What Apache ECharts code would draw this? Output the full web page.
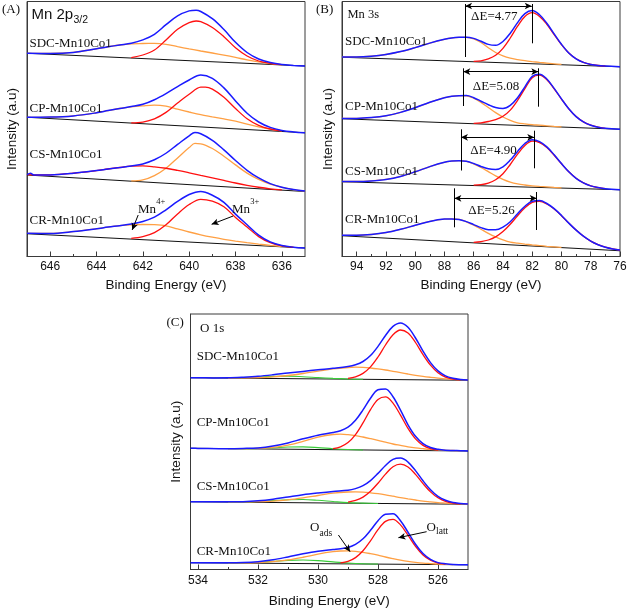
<!DOCTYPE html>
<html><head><meta charset="utf-8">
<script src="https://cdn.jsdelivr.net/npm/echarts@6/dist/echarts.min.js"></script>
<style>html,body{margin:0;padding:0;background:#fff}#c{width:628px;height:609px}</style>
</head><body><div id="c"></div>
<script>
// ---------------- DATA (binding energy eV, intensity a.u.) ----------------
const SAMPLES = ['SDC-Mn10Co1','CP-Mn10Co1','CS-Mn10Co1','CR-Mn10Co1'];

const A_TICKS = [636,638,640,642,644,646];
const A_MINOR = [637,639,641,643,645];
const B_TICKS = [76,78,80,82,84,86,88,90,92,94];
const B_MINOR = [77,79,81,83,85,87,89,91,93];
const C_TICKS = [526,528,530,532,534];
const C_MINOR = [527,529,531,533];

// Panel A : Mn 2p3/2
const A_SDC_base = [[647,203.2],[635,190.5]];
const A_SDC_env = [[647,203.2],[646,203.1],[645,204.1],[644,207.7],[643.5,209.7],[643,211.5],[642.5,213.2],[642,216.6],[641.5,222.2],[641,231.8],[640.5,240.7],[640,245.6],[639.7,246.3],[639.5,245.0],[639,237.8],[638.5,227.0],[638,214.2],[637.5,204.0],[637,197.5],[636.5,193.9],[636,191.9],[635.5,191.1],[635,190.5]];
const A_SDC_red = [[642.5,198.9],[642,201.5],[641.5,206.5],[641,216.5],[640.5,227.2],[640,233.8],[639.7,235.5],[639.5,234.8],[639,229.0],[638.5,219.8],[638,208.8],[637.5,200.5],[637,195.5],[636.5,193.1],[636,191.8]];
const A_SDC_orange = [[647,203.2],[646,203.1],[645,204.1],[644,207.7],[643.5,209.7],[643,211.5],[642.5,212.7],[642,213.0],[641.5,213.1],[641,212.2],[640.5,209.8],[640,207.6],[639.5,205.5],[639,203.5],[638.5,201.4],[638,199.1],[637.5,196.6],[637,194.6],[636.5,193.0],[636,191.7]];

const A_CP_base = [[647,139.2],[635,123.8]];
const A_CP_env = [[647,139.2],[646,139.4],[645,140.6],[644,143.7],[643.5,145.9],[643,148.0],[642.5,149.9],[642,152.2],[641.5,156.8],[641,162.9],[640.5,169.9],[640,176.5],[639.5,181.5],[639,178.2],[638.5,168.6],[638,155.6],[637.5,143.2],[637,134.5],[636.5,129.1],[636,126.1],[635.5,124.6],[635,123.8]];
const A_CP_red = [[642.5,133.7],[642,134.4],[641.5,137.6],[641,144.1],[640.5,153.4],[640,162.2],[639.5,169.3],[639.3,169.4],[639,167.4],[638.5,159.3],[638,148.0],[637.5,137.8],[637,131.2],[636.5,127.5],[636,125.6]];
const A_CP_orange = [[647,139.2],[646,139.4],[645,140.6],[644,143.7],[643.5,145.9],[643,148.0],[642.5,149.6],[642,150.6],[641.5,151.3],[641,150.3],[640.5,147.4],[640,144.5],[639.5,141.8],[639,139.7],[638.5,137.6],[638,135.3],[637.5,132.4],[637,129.7],[636.5,127.3],[636,125.6]];

const A_CS_base = [[647,81.5],[635,65.0]];
const A_CS_env = [[647,81.8],[646.85,83.2],[646.7,81.5],[646,81.6],[645,83.25],[644,85.9],[643.5,87.5],[643,89.0],[642.5,90.6],[642,92.6],[641.5,96.7],[641,103.25],[640.5,112.1],[640,120.7],[639.75,123.95],[639.5,122.7],[639,116.2],[638.5,106.6],[638,96.0],[637.5,86.2],[637,78.55],[636.5,72.9],[636,69.3],[635.5,66.9],[635,65.4]];
const A_CS_red = [[647,81.8],[646.5,81.5],[646,81.6],[645,83.25],[644,85.9],[643.5,87.5],[643,89.0],[642.5,90.3],[642,90.6],[641.5,89.7],[641,88.25],[640.5,86.1],[640,83.7],[639.5,81.2],[639,78.7],[638.5,76.1],[638,73.5],[637.5,71.2],[637,69.25],[636.5,67.7],[636,66.6]];
const A_CS_orange = [[642.5,75.6],[642,76.6],[641.5,80.9],[641,88.25],[640.5,98.6],[640,108.9],[639.75,113.05],[639.5,112.7],[639,108.0],[638.5,100.3],[638,91.6],[637.5,83.4],[637,77.05],[636.5,72.3],[636,69.1],[635.5,66.9],[635,65.4]];

const A_CR_base = [[647,22.8],[635,8.5]];
const A_CR_env = [[647,23.2],[646,23.1],[645,24.9],[644,27.7],[643.5,29.4],[643,30.8],[642.5,32.4],[642,35.0],[641.5,39.3],[641,46.7],[640.5,55.1],[640,62.0],[639.5,65.0],[639,61.3],[638.5,54.2],[638,42.4],[637.5,31.8],[637,21.4],[636.5,14.6],[636,11.0],[635.5,9.3],[635,8.5]];
const A_CR_red = [[642.5,18.1],[642,19.8],[641.5,23.8],[641,31.7],[640.5,42.6],[640,52.0],[639.5,57.2],[639,55.3],[638.5,49.7],[638,39.1],[637.5,29.5],[637,19.9],[636.5,13.8],[636,10.7],[635.5,9.3]];
const A_CR_orange = [[647,23.2],[646,23.1],[645,24.9],[644,27.7],[643.5,29.4],[643,30.8],[642.5,31.7],[642,32.0],[641.5,31.8],[641,30.7],[640.5,27.6],[640,24.5],[639.5,21.7],[639,19.3],[638.5,17.2],[638,15.4],[637.5,13.8],[637,12.4],[636.5,11.1],[636,10.0]];

// Panel B : Mn 3s
const B_SDC_base = [[95,199.2],[76,189.8]];
const B_SDC_env = [[95,199.6],[94,199.6],[93,200.3],[92,202.0],[91,204.9],[90,208.9],[89,213.4],[88,217.2],[87.5,218.6],[87,219.2],[86.5,219.3],[86,218.1],[85.5,215.2],[85,212.1],[84.5,211.2],[84,215.0],[83.5,223.3],[83,233.9],[82.5,242.9],[82,245.9],[81.5,241.7],[81,233.3],[80.5,222.6],[80,212.2],[79.5,203.5],[79,197.7],[78.5,194.1],[78,192.1],[77.5,191.0],[77,190.5],[76,189.8]];
const B_SDC_red = [[86,195.2],[85.5,195.7],[85,197.6],[84.5,201.2],[84,208.2],[83.5,218.5],[83,230.3],[82.5,240.1],[82,243.8],[81.5,240.1],[81,232.2],[80.5,221.9],[80,211.8],[79.5,203.5],[79,197.7],[78.5,194.1],[78,192.1],[77.5,191.0],[77,190.5]];
const B_SDC_orange = [[95,199.6],[94,199.6],[93,200.3],[92,202.0],[91,204.9],[90,208.9],[89,213.4],[88,217.2],[87.5,218.6],[87,219.2],[86.5,219.1],[86,217.6],[85.5,214.0],[85,208.7],[84.5,204.0],[84,200.6],[83.5,198.3],[83,196.9],[82.5,195.8],[82,194.9],[81.5,194.1],[81,193.4],[80.5,192.7],[80,192.2]];

const B_CP_base = [[95,137.8],[76,127.2]];
const B_CP_env = [[95,138.1],[94,138.1],[93,138.9],[92,140.7],[91,144.1],[90,148.8],[89,154.2],[88,158.8],[87.5,160.2],[87,160.8],[86.5,160.9],[86,158.8],[85.5,155.3],[85,151.8],[84.5,148.9],[84,148.0],[83.5,151.1],[83,158.7],[82.5,169.6],[82,180.1],[81.5,182.3],[81,177.5],[80.5,168.1],[80,157.6],[79.5,147.7],[79,139.9],[78.5,134.6],[78,131.3],[77.5,129.3],[77,128.2],[76,127.2]];
const B_CP_red = [[86,133.2],[85.5,133.7],[85,135.0],[84.5,136.9],[84,140.2],[83.5,146.4],[83,156.1],[82.5,167.8],[82,178.8],[81.5,181.3],[81,176.8],[80.5,167.7],[80,157.4],[79.5,147.7],[79,139.9],[78.5,134.6],[78,131.3],[77.5,129.3],[77,128.2]];
const B_CP_orange = [[95,138.1],[94,138.1],[93,138.9],[92,140.7],[91,144.1],[90,148.8],[89,154.2],[88,158.8],[87.5,160.2],[87,160.8],[86.5,160.6],[86,158.3],[85.5,154.1],[85,149.0],[84.5,143.9],[84,139.5],[83.5,136.1],[83,133.7],[82.5,132.6],[82,131.8],[81.5,131.3],[81,130.7],[80.5,130.1],[80,129.6]];

const B_CS_base = [[95,74.8],[76,66.8]];
const B_CS_env = [[95,75.0],[94,75.0],[93,75.6],[92,77.1],[91,80.1],[90,84.7],[89,89.9],[88,94.2],[87.5,95.4],[87,95.8],[86.5,95.2],[86,93.0],[85.5,90.0],[85,87.7],[84.5,87.0],[84,89.7],[83.5,96.4],[83,105.1],[82.5,113.0],[82,116.7],[81.5,114.9],[81,109.6],[80.5,101.7],[80,92.9],[79.5,84.7],[79,78.2],[78.5,73.6],[78,70.6],[77.5,68.9],[77,67.8],[76,66.8]];
const B_CS_red = [[86,71.3],[85.5,71.8],[85,73.4],[84.5,76.7],[84,82.7],[83.5,92.0],[83,102.3],[82.5,111.0],[82,115.3],[81.5,113.9],[81,108.9],[80.5,101.3],[80,92.7],[79.5,84.7],[79,78.2],[78.5,73.6],[78,70.6],[77.5,68.9],[77,67.8]];
const B_CS_orange = [[95,75.0],[94,75.0],[93,75.6],[92,77.1],[91,80.1],[90,84.7],[89,89.9],[88,94.2],[87.5,95.4],[87,95.8],[86.5,95.1],[86,92.7],[85.5,89.0],[85,84.9],[84.5,80.7],[84,77.2],[83.5,74.4],[83,72.6],[82.5,71.5],[82,70.7],[81.5,70.1],[81,69.6],[80.5,69.1],[80,68.7]];

const B_CR_base = [[95,20.7],[76,5.8]];
const B_CR_env = [[95,21.2],[94,21.2],[93,22.0],[92,23.9],[91,27.2],[90,31.2],[89,35.1],[88,37.4],[87.5,37.6],[87,37.1],[86.5,34.9],[86,31.9],[85.5,28.9],[85,26.8],[84.5,26.7],[84,29.4],[83.5,34.8],[83,42.8],[82.5,50.3],[82,55.2],[81.5,55.9],[81,53.0],[80.5,47.8],[80,41.0],[79.5,33.4],[79,26.4],[78.5,20.3],[78,15.4],[77.5,11.8],[77,9.3],[76.5,7.6],[76,6.5]];
const B_CR_red = [[86,14.2],[85.5,14.9],[85,16.5],[84.5,19.6],[84,24.9],[83.5,32.2],[83,40.8],[82.5,48.8],[82,54.1],[81.5,55.1],[81,52.5],[80.5,47.5],[80,40.8],[79.5,33.4],[79,26.4],[78.5,20.3],[78,15.4],[77.5,11.8],[77,9.3],[76.5,7.6],[76,6.5]];
const B_CR_orange = [[95,21.2],[94,21.2],[93,22.0],[92,23.9],[91,27.2],[90,31.2],[89,35.1],[88,37.4],[87.5,37.6],[87,37.1],[86.5,34.7],[86,31.3],[85.5,27.3],[85,23.2],[84.5,19.6],[84,16.6],[83.5,14.3],[83,13.3],[82.5,12.4],[82,11.6],[81.5,10.9],[81,10.2],[80.5,9.6],[80,9.05]];

// Mn 3s splitting: peak positions
const B_DE_TEXT = ['ΔE=4.77','ΔE=5.08','ΔE=4.90','ΔE=5.26'];
const B_DE_LEFT = [86.59,86.71,86.87,87.32];
const B_DE_RIGHT = [82.03,81.58,81.86,81.69];

// Panel C : O 1s
const C_SDC_base = [[534.25,191.8],[525,189.2]];
const C_SDC_env = [[534.25,191.8],[534,191.7],[533.5,191.6],[533,191.7],[532.5,192.3],[532,193.2],[531.5,194.7],[531,196.5],[530.5,198.1],[530,199.7],[529.5,201.2],[529,203.0],[528.75,204.7],[528.5,208.0],[528.25,214.0],[528,223.1],[527.75,234.0],[527.5,243.1],[527.25,246.6],[527,242.2],[526.75,231.5],[526.5,218.4],[526.25,206.9],[526,198.6],[525.75,193.7],[525.5,191.3],[525.25,190.1],[525,189.6]];
const C_SDC_red = [[529,191.1],[528.75,192.7],[528.5,196.1],[528.25,202.6],[528,212.5],[527.75,224.5],[527.5,234.8],[527.25,239.5],[527,236.5],[526.75,227.0],[526.5,214.9],[526.25,204.3],[526,196.7],[525.75,192.4],[525.5,190.4],[525.25,189.6]];
const C_SDC_orange = [[533,191.5],[532.5,191.7],[532,191.9],[531.5,192.6],[531,194.0],[530.5,196.0],[530,198.4],[529.5,200.6],[529,202.0],[528.75,202.3],[528.5,202.1],[528.25,201.5],[528,200.6],[527.75,199.5],[527.5,198.2],[527.25,196.9],[527,195.5],[526.75,194.2],[526.5,193.1],[526.25,192.2],[526,191.4],[525.75,190.7],[525.5,190.2],[525.25,189.8],[525,189.6]];
const C_SDC_green = [[533,191.7],[532.5,192.0],[532,192.5],[531.5,193.1],[531,193.4],[530.5,192.8],[530,191.9],[529.5,191.1],[529,190.5],[528.5,190.2]];

const C_CP_base = [[534.25,121.2],[525,118.5]];
const C_CP_env = [[534.25,121.2],[534,121.1],[533,120.8],[532.5,121.05],[532,121.6],[531.5,123.5],[531,126.6],[530.5,130.7],[530,134.3],[529.5,136.95],[529.25,138.75],[529,142.3],[528.75,149.2],[528.5,159.6],[528.25,171.3],[528,179.8],[527.75,180.6],[527.5,172.7],[527.25,159.3],[527,144.7],[526.75,133.2],[526.5,125.9],[526.25,122.0],[526,120.2],[525.75,119.3],[525.5,119.05],[525.25,118.8],[525,118.5]];
const C_CP_red = [[529.5,120.8],[529.25,122.65],[529,126.9],[528.75,134.9],[528.5,146.6],[528.25,159.9],[528,170.0],[527.75,172.6],[527.5,166.4],[527.25,154.4],[527,141.1],[526.75,130.6],[526.5,124.1],[526.25,120.8],[526,119.4]];
const C_CP_orange = [[533,120.8],[532.5,120.9],[532,121.1],[531.5,122.2],[531,124.4],[530.5,128.2],[530,132.4],[529.5,135.0],[529.25,135.3],[529,134.8],[528.75,133.9],[528.5,132.5],[528.25,130.9],[528,129.2],[527.75,127.3],[527.5,125.5],[527.25,124.1],[527,122.7],[526.75,121.6],[526.5,120.8],[526.25,120.1],[526,119.6],[525.75,119.3],[525.5,119.05],[525.25,118.8]];
const C_CP_green = [[533,120.8],[532.5,120.85],[532,121.1],[531.5,121.7],[531,122.5],[530.5,122.6],[530,121.9],[529.5,120.8],[529,120.0],[528.5,119.5]];

const C_CS_base = [[534.25,67.8],[525,65.2]];
const C_CS_env = [[534.25,67.8],[534,67.7],[533,67.65],[532.5,67.84],[532,68.7],[531.5,70.3],[531,72.6],[530.5,74.85],[530,76.6],[529.5,78.1],[529,79.2],[528.75,80.85],[528.5,83.8],[528.25,88.9],[528,96.1],[527.75,104.05],[527.5,110.1],[527.25,111.4],[527,107.45],[526.75,98.9],[526.5,88.7],[526.25,79.75],[526,73.1],[525.75,69.2],[525.5,67.0],[525.25,66.1],[525,65.4]];
const C_CS_red = [[529,67.4],[528.75,69.05],[528.5,72.4],[528.25,78.2],[528,86.3],[527.75,95.35],[527.5,102.7],[527.25,105.3],[527,102.55],[526.75,95.1],[526.5,85.9],[526.25,77.65],[526,71.7],[525.75,68.2],[525.5,66.4],[525.25,65.7]];
const C_CS_orange = [[533,67.55],[532.5,67.54],[532,67.8],[531.5,68.4],[531,69.7],[530.5,71.65],[530,74.0],[529.5,76.3],[529,77.5],[528.75,77.65],[528.5,77.4],[528.25,76.7],[528,75.8],[527.75,74.65],[527.5,73.3],[527.25,71.9],[527,70.65],[526.75,69.5],[526.5,68.4],[526.25,67.65],[526,66.9],[525.75,66.4],[525.5,65.9],[525.25,65.7],[525,65.4]];
const C_CS_green = [[533,67.55],[532.5,67.6],[532,68.1],[531.5,68.9],[531,69.8],[530.5,69.95],[530,69.2],[529.5,68.0],[529,66.9],[528.5,66.4],[528,66.05]];

const C_CR_base = [[534.25,6.8],[525,4.7]];
const C_CR_env = [[534.25,6.8],[534,6.74],[533,6.65],[532.5,6.9],[532,7.8],[531.5,9.7],[531,12.6],[530.5,15.75],[530,18.35],[529.5,20.0],[529.25,20.75],[529,22.0],[528.75,25.05],[528.5,30.7],[528.25,39.2],[528,48.8],[527.75,55.3],[527.5,55.7],[527.25,48.8],[527,37.25],[526.75,25.3],[526.5,15.94],[526.25,10.1],[526,6.9],[525.75,5.7],[525.5,4.95],[525.25,4.75],[525,4.7]];
const C_CR_red = [[529.25,6.55],[529,8.1],[528.75,11.85],[528.5,18.7],[528.25,28.64],[528,39.8],[527.75,48.1],[527.5,50.1],[527.25,44.6],[527,34.25],[526.75,23.2],[526.5,14.54],[526.25,9.2],[526,6.4],[525.75,5.4]];
const C_CR_orange = [[533,6.58],[532.5,6.6],[532,6.9],[531.5,7.8],[531,9.6],[530.5,12.25],[530,15.35],[529.5,17.8],[529.25,18.5],[529,18.6],[528.75,18.15],[528.5,17.2],[528.25,15.84],[528,14.3],[527.75,12.5],[527.5,10.9],[527.25,9.4],[527,8.15],[526.75,7.2],[526.5,6.44],[526.25,5.9],[526,5.4],[525.75,5.2],[525.5,4.95]];
const C_CR_green = [[533,6.59],[532.5,6.7],[532,7.2],[531.5,8.1],[531,9.1],[530.5,9.45],[530,8.85],[529.5,7.6],[529,6.5],[528.5,5.8],[528,5.47]];

// ---------------- LAYOUT / STYLE ----------------
const SERIF = "'Liberation Serif','Times New Roman',serif";
const SANS = "'Liberation Sans',Arial,sans-serif";
const AXIS = '#3a3a3a', TXT = '#111';
const BLUE = '#1a1aff', RED = '#ff1010', ORANGE = '#ffa044', GREEN = '#3acc3a', BASE = '#111';

const panels = [
  {rect:{left:27, top:1.5, width:278, height:255}, min:635, max:647, ymax:255, ticks:A_TICKS, minor:A_MINOR, lm:4, ng:21.5, yng:8},
  {rect:{left:342, top:1.5, width:278, height:255}, min:76, max:95, ymax:255, ticks:B_TICKS, minor:B_MINOR, lm:4, ng:21.5, yng:7},
  {rect:{left:190.5, top:314, width:277.5, height:255.5}, min:525, max:534.25, ymax:255.5, ticks:C_TICKS, minor:C_MINOR, lm:5.5, ng:25, yng:7}
];

const grids = [], xAxes = [], yAxes = [];
panels.forEach((p, i) => {
  grids.push(Object.assign({show:true, borderColor:AXIS, borderWidth:1, containLabel:false, outerBoundsMode:'none'}, p.rect));
  xAxes.push({gridIndex:i, type:'value', min:p.min, max:p.max, inverse:true,
    axisLine:{show:true, onZero:false, lineStyle:{color:AXIS, width:1}},
    axisTick:{show:true, inside:true, length:5, customValues:p.ticks, lineStyle:{color:AXIS, width:1}},
    minorTick:{show:false}, splitLine:{show:false},
    axisLabel:{show:true, customValues:p.ticks, margin:p.lm, fontSize:12, fontFamily:SANS, color:TXT},
    name:'Binding Energy (eV)', nameLocation:'middle', nameGap:p.ng,
    nameTextStyle:{fontSize:13.5, fontFamily:SANS, color:TXT}});
  yAxes.push({gridIndex:i, type:'value', min:0, max:p.ymax,
    axisLine:{show:true, onZero:false, lineStyle:{color:AXIS, width:1}},
    axisTick:{show:false}, axisLabel:{show:false}, splitLine:{show:false},
    name:'Intensity (a.u)', nameLocation:'middle', nameGap:p.yng, nameRotate:90,
    nameTextStyle:{fontSize:13.5, fontFamily:SANS, color:TXT}});
});
// overlay grids carrying the minor (odd-eV) ticks
panels.forEach((p, i) => {
  grids.push(Object.assign({show:false, containLabel:false, outerBoundsMode:'none'}, p.rect));
  xAxes.push({gridIndex:3+i, type:'value', min:p.min, max:p.max, inverse:true,
    axisLine:{show:false}, axisLabel:{show:false}, splitLine:{show:false},
    axisTick:{show:true, inside:true, length:2.5, customValues:p.minor, lineStyle:{color:AXIS, width:1}}});
  yAxes.push({gridIndex:3+i, type:'value', min:0, max:p.ymax, show:false});
});

function line(data, color, idx, w) {
  return {type:'line', xAxisIndex:idx, yAxisIndex:idx, data:data, smooth:0.35, symbol:'none', showSymbol:false,
    silent:true, clip:true, lineStyle:{color:color, width:w}, emphasis:{disabled:true}};
}
function mark(lines) {
  return {silent:true, symbol:['none','none'], label:{show:false}, emphasis:{disabled:true},
    lineStyle:{color:'#000', width:1, type:'solid'}, data:lines};
}
const seg = (a, b) => [{coord:a}, {coord:b}];
const arrow1 = (a, b) => [{coord:a, symbol:'none'}, {coord:b, symbol:'arrow', symbolSize:[5,7]}];
const arrow2 = (a, b) => [{coord:a, symbol:'arrow', symbolSize:[5,7]}, {coord:b, symbol:'arrow', symbolSize:[5,7]}];

const series = [];
function spectrum(idx, base, green, orange, red, env, marks) {
  const b = line(base, BASE, idx, 1.1);
  if (marks) b.markLine = mark(marks);
  series.push(b);
  if (green) series.push(line(green, GREEN, idx, 1.1));
  series.push(line(orange, ORANGE, idx, 1.3));
  series.push(line(red, RED, idx, 1.3));
  series.push(line(env, BLUE, idx, 1.5));
}

// Panel A
spectrum(0, A_SDC_base, null, A_SDC_orange, A_SDC_red, A_SDC_env);
spectrum(0, A_CP_base, null, A_CP_orange, A_CP_red, A_CP_env);
spectrum(0, A_CS_base, null, A_CS_orange, A_CS_red, A_CS_env);
spectrum(0, A_CR_base, null, A_CR_orange, A_CR_red, A_CR_env,
  [arrow1([642.2,41.5],[642.46,26.5]), arrow1([638.1,40.5],[639.03,32.2])]);

// Panel B, with delta-E markers (vertical extents / arrow heights are layout)
const B_DE_GEOM = [
  {arrow:250.5, l:[252.5,199.5], r:[252.5,213.2]},
  {arrow:184.8, l:[188.2,150.5], r:[188.2,149.8]},
  {arrow:119.2, l:[127.2,86.0], r:[125.8,88.2]},
  {arrow:58.2,  l:[68.2,29.2],  r:[64.5,26.5]}
];
function deMarks(k) {
  const g = B_DE_GEOM[k], L = B_DE_LEFT[k], R = B_DE_RIGHT[k];
  return [seg([L,g.l[0]],[L,g.l[1]]), seg([R,g.r[0]],[R,g.r[1]]), arrow2([L,g.arrow],[R,g.arrow])];
}
spectrum(1, B_SDC_base, null, B_SDC_orange, B_SDC_red, B_SDC_env, deMarks(0));
spectrum(1, B_CP_base, null, B_CP_orange, B_CP_red, B_CP_env, deMarks(1));
spectrum(1, B_CS_base, null, B_CS_orange, B_CS_red, B_CS_env, deMarks(2));
spectrum(1, B_CR_base, null, B_CR_orange, B_CR_red, B_CR_env, deMarks(3));

// Panel C
spectrum(2, C_SDC_base, C_SDC_green, C_SDC_orange, C_SDC_red, C_SDC_env);
spectrum(2, C_CP_base, C_CP_green, C_CP_orange, C_CP_red, C_CP_env);
spectrum(2, C_CS_base, C_CS_green, C_CS_orange, C_CS_red, C_CS_env);
spectrum(2, C_CR_base, C_CR_green, C_CR_orange, C_CR_red, C_CR_env,
  [arrow1([529.32,34.5],[528.93,17.8]), arrow1([526.38,37.8],[527.32,31.8])]);

// ---------------- TEXT ----------------
function txt(x, y, text, size, family, align) {
  const a = align || 'left';
  return {type:'text', x:x, y:y, silent:true, z:100,
    style:{text:text, fontSize:size, fontFamily:family, fill:TXT, align:a, verticalAlign:'middle', textAlign:a, textVerticalAlign:'middle'}};
}
const SAMPLE_Y = {A:[43.3,108.3,155,220.5], B:[41.7,106.7,171.7,220], C:[356.7,422.3,486.7,551.7]};
const graphics = [
  txt(2, 10, '(A)', 13, SERIF), txt(316, 10, '(B)', 13, SERIF), txt(166.5, 323, '(C)', 13, SERIF),
  txt(31.5, 15, 'Mn 2p', 15, SANS), txt(73.5, 20, '3/2', 10.5, SANS),
  txt(347.5, 15, 'Mn 3s', 12.5, SERIF),
  txt(200, 329, 'O 1s', 13, SERIF),
  txt(138, 209.5, 'Mn', 13, SERIF), txt(156.3, 202, '4+', 8.5, SERIF),
  txt(232, 209.5, 'Mn', 13, SERIF), txt(250.3, 202, '3+', 8.5, SERIF),
  txt(310, 527.5, 'O', 13, SERIF), txt(319.6, 533.5, 'ads', 9.5, SERIF),
  txt(426.5, 527.5, 'O', 13, SERIF), txt(436.1, 531.5, 'latt', 9.5, SERIF)
];
SAMPLES.forEach((s, k) => {
  graphics.push(txt(29.5, SAMPLE_Y.A[k], s, 13, SERIF));
  graphics.push(txt(345, SAMPLE_Y.B[k], s, 13, SERIF));
  graphics.push(txt(196.7, SAMPLE_Y.C[k], s, 13, SERIF));
});
const DE_POS = [[494.3,16.7],[496,87],[493.5,150.5],[491.5,211]];
B_DE_TEXT.forEach((t, k) => graphics.push(txt(DE_POS[k][0], DE_POS[k][1], t, 13, SERIF, 'center')));

const chart = echarts.init(document.getElementById('c'), null, {renderer:'canvas', width:628, height:609});
chart.setOption({
  animation:false, backgroundColor:'#fff',
  grid:grids, xAxis:xAxes, yAxis:yAxes, series:series, graphic:graphics
});
</script></body></html>
